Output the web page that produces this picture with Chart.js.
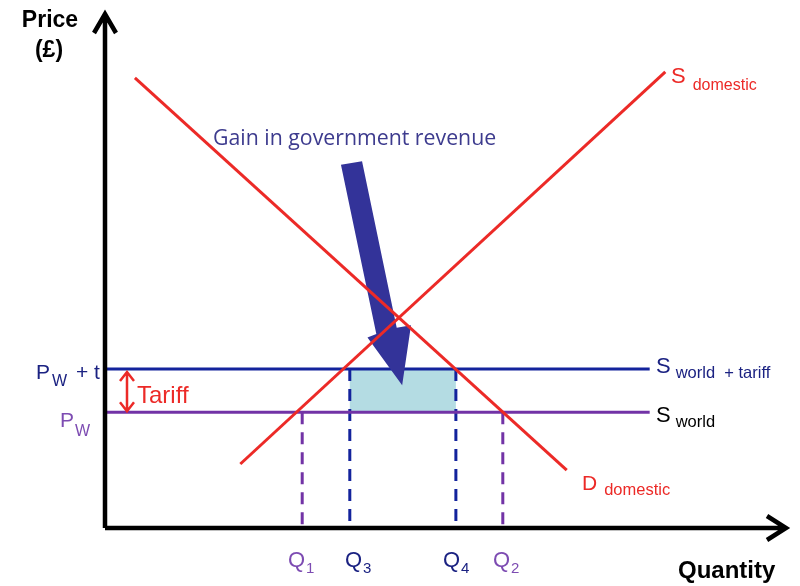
<!DOCTYPE html>
<html>
<head>
<meta charset="utf-8">
<script src="https://cdn.jsdelivr.net/npm/chart.js@4.4.1/dist/chart.umd.min.js"></script>
<style>
    html, body { margin: 0; padding: 0; background: #ffffff; }
    canvas { display: block; }
</style>
</head>
<body>
<canvas id="chart" width="800" height="586"></canvas>
<script>
(() => {
    'use strict';

    // quantities on the x axis (0-100) and prices on the y axis (0-100)
    const qNames = ['1', '3', '4', '2'];
    const qValues = [29.0, 36.0, 51.6, 58.5];
    const priceWorld = 22.8;
    const priceTariff = 31.3;
    const qPrices = [priceWorld, priceTariff, priceTariff, priceWorld];
    const lineEnd = 80.1;

    const demandX = [4.4, 67.9];
    const demandY = [88.6, 11.4];
    const supplyX = [19.9, 82.4];
    const supplyY = [12.6, 89.8];

    // big "gain in revenue" pointer
    const arrowX = [34.7, 37.8, 42.9, 45.0, 43.7, 38.6, 39.9];
    const arrowY = [71.5, 72.2, 39.4, 39.9, 28.1, 37.5, 38.2];

    const RED = '#ec2a27';
    const BLUE = '#13239c';
    const PURPLE = '#7233a6';
    const TEXT_BLUE = '#1b2282';
    const TEXT_PURPLE = '#7d4cb2';
    const SANS = '"Liberation Sans", Arial, sans-serif';

    const pts = (xs, ys) => xs.map((x, i) => ({ x, y: ys[i] }));

    const lineSet = (data, color, width, dash) => ({
        data,
        showLine: true,
        borderColor: color,
        borderWidth: width,
        borderDash: dash || [],
        pointRadius: 0,
        fill: false,
    });

    const datasets = [
        lineSet(pts(demandX, demandY), RED, 3),
        lineSet(pts(supplyX, supplyY), RED, 3),
        {
            data: pts(arrowX, arrowY).concat([{ x: arrowX[0], y: arrowY[0] }]),
            showLine: true,
            borderWidth: 0,
            borderColor: '#333399',
            backgroundColor: '#333399',
            pointRadius: 0,
            fill: 'shape',
        },
        lineSet([{ x: 0, y: priceTariff }, { x: lineEnd, y: priceTariff }], BLUE, 3),
        lineSet([{ x: 0, y: priceWorld }, { x: lineEnd, y: priceWorld }], PURPLE, 3),
    ];

    qValues.forEach((q, i) => {
        const color = qPrices[i] === priceWorld ? PURPLE : BLUE;
        datasets.push(lineSet([{ x: q, y: qPrices[i] }, { x: q, y: 0 }], color, 3, [12, 8]));
    });

    datasets.push({
        data: [
            { x: qValues[1], y: priceWorld },
            { x: qValues[2], y: priceWorld },
            { x: qValues[2], y: priceTariff },
            { x: qValues[1], y: priceTariff },
            { x: qValues[1], y: priceWorld },
        ],
        showLine: true,
        borderWidth: 0,
        borderColor: '#b4dce3',
        backgroundColor: '#b4dce3',
        pointRadius: 0,
        fill: 'shape',
    });

    const withSub = (ctx, main, sub, x, y, mainSize, subSize, drop, gap, color) => {
        ctx.fillStyle = color;
        ctx.font = `${mainSize}px ${SANS}`;
        ctx.fillText(main, x, y);
        const w = ctx.measureText(main).width;
        ctx.font = `${subSize}px ${SANS}`;
        ctx.fillText(sub, x + w + gap, y + drop);
    };

    const qLabelX = [288, 345, 443, 493];

    const annotations = {
        id: 'tariffAnnotations',
        afterDatasetsDraw(chart) {
            const ctx = chart.ctx;
            const { left, bottom } = chart.chartArea;
            const ys = chart.scales.y;

            ctx.save();

            // axes with open arrow heads
            ctx.strokeStyle = '#000000';
            ctx.lineWidth = 4.5;
            ctx.beginPath();
            ctx.moveTo(left, bottom);
            ctx.lineTo(left, 14);
            ctx.moveTo(left - 11, 33);
            ctx.lineTo(left, 14);
            ctx.lineTo(left + 11, 33);
            ctx.moveTo(left, bottom);
            ctx.lineTo(786, bottom);
            ctx.moveTo(767, bottom - 12);
            ctx.lineTo(786, bottom);
            ctx.lineTo(767, bottom + 12);
            ctx.stroke();

            // tariff double arrow
            const yT = ys.getPixelForValue(priceTariff) + 3;
            const yW = ys.getPixelForValue(priceWorld) - 1;
            ctx.strokeStyle = RED;
            ctx.lineWidth = 2.5;
            ctx.beginPath();
            ctx.moveTo(127, yT);
            ctx.lineTo(127, yW);
            ctx.moveTo(120, yT + 9);
            ctx.lineTo(127, yT);
            ctx.lineTo(134, yT + 9);
            ctx.moveTo(120, yW - 9);
            ctx.lineTo(127, yW);
            ctx.lineTo(134, yW - 9);
            ctx.stroke();

            ctx.textBaseline = 'alphabetic';

            // axis titles
            ctx.fillStyle = '#000000';
            ctx.textAlign = 'center';
            ctx.font = `bold 23px ${SANS}`;
            ctx.fillText('Price', 50, 27);
            ctx.fillText('(£)', 49, 57);
            ctx.textAlign = 'left';
            ctx.font = `bold 24px ${SANS}`;
            ctx.fillText('Quantity', 678, 578);

            ctx.fillStyle = '#3d3b8e';
            ctx.font = '21.3px "Open Sans", sans-serif';
            ctx.fillText('Gain in government revenue', 213, 145);

            // price labels
            withSub(ctx, 'P', 'W', 36, 379, 21, 16, 7, 2, TEXT_BLUE);
            ctx.font = `21px ${SANS}`;
            ctx.fillText('+ t', 76, 379);
            withSub(ctx, 'P', 'W', 60, 427, 21, 16, 9, 1, TEXT_PURPLE);

            ctx.fillStyle = RED;
            ctx.font = `24px ${SANS}`;
            ctx.fillText('Tariff', 137, 403);

            // curve labels
            withSub(ctx, 'S', 'domestic', 671, 83, 22, 16, 7, 7, RED);
            withSub(ctx, 'S', 'world  + tariff', 656, 373, 22, 16.5, 5, 5, TEXT_BLUE);
            withSub(ctx, 'S', 'world', 656, 422, 22, 16.5, 5, 5, '#000000');
            withSub(ctx, 'D', 'domestic', 582, 490, 21, 16.5, 5, 7, RED);

            // quantity labels
            qNames.forEach((name, i) => {
                const color = qPrices[i] === priceWorld ? TEXT_PURPLE : TEXT_BLUE;
                withSub(ctx, 'Q', name, qLabelX[i], 567, 22, 15, 6, 1, color);
            });

            ctx.restore();
        },
    };

    new Chart(document.getElementById('chart'), {
        type: 'scatter',
        data: { datasets },
        plugins: [annotations],
        options: {
            responsive: false,
            animation: false,
            layout: {
                padding: { left: 105, right: 15, top: 20, bottom: 58 },
            },
            scales: {
                x: { type: 'linear', min: 0, max: 100, display: false },
                y: { type: 'linear', min: 0, max: 100, display: false },
            },
            plugins: {
                legend: { display: false },
                tooltip: { enabled: false },
            },
        },
    });
})();
</script>
</body>
</html>
